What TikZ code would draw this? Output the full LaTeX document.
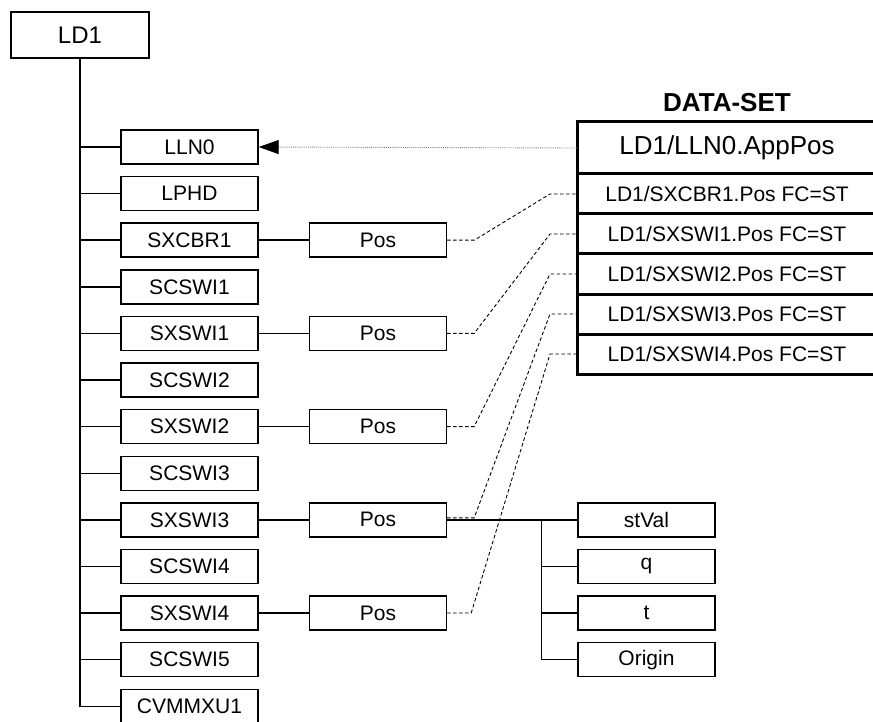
\documentclass[tikz,border=0pt]{standalone}
\usepackage{fontspec}
\setmainfont{Liberation Sans}
\usepackage{tikz}
\usetikzlibrary{shapes,arrows.meta,positioning}
\tikzstyle{lnode} = [rectangle, draw, line width=1.4pt, minimum width=137pt,
    minimum height=34pt, inner sep=0pt, font=\fontsize{21}{24}\selectfont]
\tikzstyle{dsrow} = [rectangle, draw, line width=3pt, minimum width=300pt,
    minimum height=40pt, inner sep=0pt, outer sep=0pt, font=\fontsize{21}{24}\selectfont]
\tikzset{
  treeline/.style={line width=1.4pt},
  dslink/.style={line width=0.9pt, dash pattern=on 3.5pt off 2.5pt},
  refarrow/.style={-{Triangle[length=20pt,width=14pt,black]}, densely dotted, line width=0.9pt, gray},
	}

\begin{document}
\begin{tikzpicture}[x=1pt, y=-1pt, align=center, node distance=46.6pt]
    \clip (0,0) rectangle (873,722);
    \node[lnode, minimum width=138pt, minimum height=46pt, font=\fontsize{24}{28}\selectfont](ld1) at (80,35){LD1};
    \node[lnode](lln0) at (189.5,147){LLN0};
    \draw[treeline](ld1.south)|-(lln0.west);
    \node[lnode, below of=lln0](lphd){LPHD};
    \draw[treeline](ld1.south)|-(lphd.west);
    \node[lnode, below of=lphd](sxcbr1){SXCBR1};
    \draw[treeline](ld1.south)|-(sxcbr1.west);
    \node[lnode, below of=sxcbr1](scswi1){SCSWI1};
    \draw[treeline](ld1.south)|-(scswi1.west);
    \node[lnode, below of=scswi1](sxswi1){SXSWI1};
    \draw[treeline](ld1.south)|-(sxswi1.west);
    \node[lnode, below of=sxswi1](scswi2){SCSWI2};
    \draw[treeline](ld1.south)|-(scswi2.west);
    \node[lnode, below of=scswi2](sxswi2){SXSWI2};
    \draw[treeline](ld1.south)|-(sxswi2.west);
    \node[lnode, below of=sxswi2](scswi3){SCSWI3};
    \draw[treeline](ld1.south)|-(scswi3.west);
    \node[lnode, below of=scswi3](sxswi3){SXSWI3};
    \draw[treeline](ld1.south)|-(sxswi3.west);
    \node[lnode, below of=sxswi3](scswi4){SCSWI4};
    \draw[treeline](ld1.south)|-(scswi4.west);
    \node[lnode, below of=scswi4](sxswi4){SXSWI4};
    \draw[treeline](ld1.south)|-(sxswi4.west);
    \node[lnode, below of=sxswi4](scswi5){SCSWI5};
    \draw[treeline](ld1.south)|-(scswi5.west);
    \node[lnode, below of=scswi5](cvmmxu1){CVMMXU1};
    \draw[treeline](ld1.south)|-(cvmmxu1.west);
    \node[lnode, right of=sxcbr1, node distance=188.5pt](pos1){Pos};
    \draw[treeline](sxcbr1.east)--(pos1.west);
    \node[lnode, right of=sxswi1, node distance=188.5pt](pos2){Pos};
    \draw[treeline](sxswi1.east)--(pos2.west);
    \node[lnode, right of=sxswi2, node distance=188.5pt](pos3){Pos};
    \draw[treeline](sxswi2.east)--(pos3.west);
    \node[lnode, right of=sxswi3, node distance=188.5pt](pos4){Pos};
    \draw[treeline](sxswi3.east)--(pos4.west);
    \node[lnode, right of=sxswi4, node distance=188.5pt](pos5){Pos};
    \draw[treeline](sxswi4.east)--(pos5.west);
    \node[lnode, right of=pos4, node distance=268.5pt](stval){stVal};
    \draw[treeline](pos4.east)--(stval.west);
    \coordinate[left=36pt of stval.west](fork);
    \node[lnode, below of=stval](q){q};
    \draw[treeline](fork)|-(q.west);
    \node[lnode, below of=q](t){t};
    \draw[treeline](fork)|-(t.west);
    \node[lnode, below of=t](origin){Origin};
    \draw[treeline](fork)|-(origin.west);
    \node[dsrow, minimum height=52pt, font=\fontsize{26}{30}\selectfont](ds0) at (727,148){LD1/LLN0.AppPos};
    \node[above=10pt of ds0, inner sep=0pt, font=\bfseries\fontsize{26}{30}\selectfont](dstitle){DATA-SET};
    \node[dsrow, below=0pt of ds0](ds1){LD1/SXCBR1.Pos FC=ST};
    \node[dsrow, below=0pt of ds1](ds2){LD1/SXSWI1.Pos FC=ST};
    \node[dsrow, below=0pt of ds2](ds3){LD1/SXSWI2.Pos FC=ST};
    \node[dsrow, below=0pt of ds3](ds4){LD1/SXSWI3.Pos FC=ST};
    \node[dsrow, below=0pt of ds4](ds5){LD1/SXSWI4.Pos FC=ST};
    \draw[refarrow](ds0.west)--(lln0.east);
    \draw[dslink](pos1.east)--++(27,0)--([xshift=-27pt]ds1.west)--(ds1.west);
    \draw[dslink](pos2.east)--++(27,0)--([xshift=-27pt]ds2.west)--(ds2.west);
    \draw[dslink](pos3.east)--++(27,0)--([xshift=-27pt]ds3.west)--(ds3.west);
    \draw[dslink]([yshift=2pt]pos4.east)--++(27,0)--([xshift=-27pt]ds4.west)--(ds4.west);
    \draw[dslink](pos5.east)--++(24,0)--([xshift=-27pt]ds5.west)--(ds5.west);
\end{tikzpicture}
\end{document}
